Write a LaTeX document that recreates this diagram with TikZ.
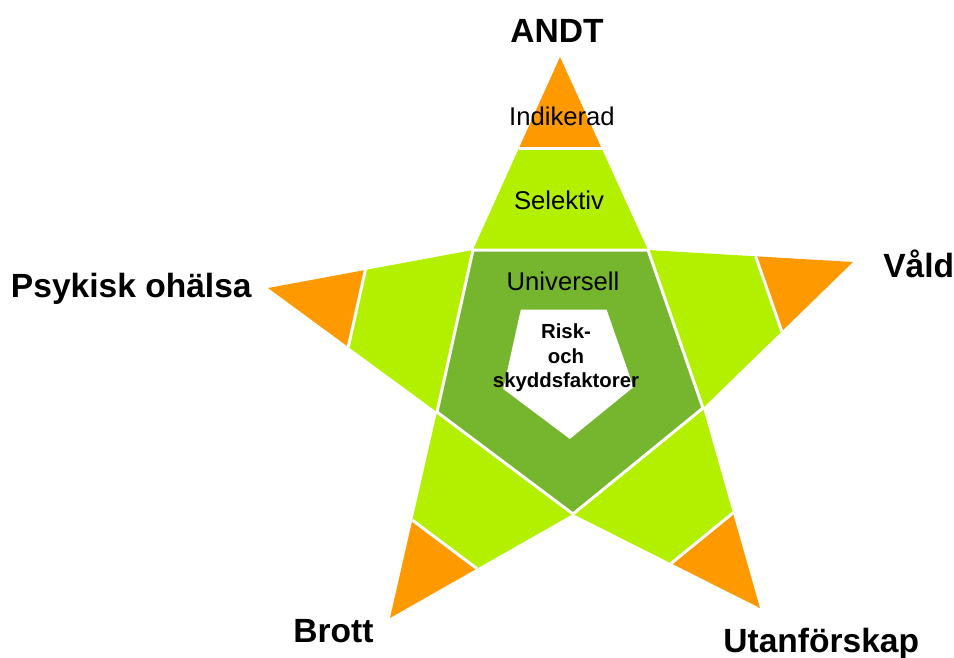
\documentclass[tikz,border=0pt]{standalone}
\usepackage{fontspec}
\setmainfont{Liberation Sans}
\usetikzlibrary{calc}
\definecolor{TipColor}{RGB}{255,153,0}
\definecolor{ArmColor}{RGB}{178,240,0}
\definecolor{CoreColor}{RGB}{118,182,46}

\begin{document}
\begin{tikzpicture}[x=0.02cm,y=-0.02cm,
    cut/.style={draw=white,line width=1.7pt,line join=miter},
    outer/.style={font=\fontsize{19.1}{23}\selectfont\bfseries,inner sep=0pt},
    inner/.style={font=\fontsize{14.6}{17}\selectfont}]
\useasboundingbox (0,0) rectangle (954,657);

% inner corners of the star, its tips and the middle
\coordinate (A) at (473,250);
\coordinate (B) at (648,250);
\coordinate (C) at (703,408);
\coordinate (D) at (573,514);
\coordinate (E) at (437,412);
\coordinate (T) at (560,57);
\coordinate (R) at (853,262);
\coordinate (BR) at (760,608);
\coordinate (BL) at (390,618);
\coordinate (L) at (268,288);
\coordinate (O) at (566.8,366.8);

% arms: green base with orange point
\foreach \cornerA/\apex/\cornerB in {A/T/B, B/R/C, C/BR/D, D/BL/E, E/L/A}{
    \fill[ArmColor] (\cornerA) -- ($(\cornerA)!0.525!(\apex)$)
        -- ($(\cornerB)!0.525!(\apex)$) -- (\cornerB) -- cycle;
    \fill[TipColor] ($(\cornerA)!0.525!(\apex)$) -- (\apex)
        -- ($(\cornerB)!0.525!(\apex)$) -- cycle;
    \draw[cut] ($(\cornerA)!0.525!(\apex)$) -- ($(\cornerB)!0.525!(\apex)$);
}

% core pentagon with white centre
\fill[CoreColor] (A) -- (B) -- (C) -- (D) -- (E) -- cycle;
\fill[white] ($(O)!0.49!(A)$) -- ($(O)!0.49!(B)$) -- ($(O)!0.49!(C)$)
    -- ($(O)!0.49!(D)$) -- ($(O)!0.49!(E)$) -- cycle;
\draw[cut] (A) -- (B) -- (C) -- (D) -- (E) -- cycle;

% levels
\node[inner] (indikerad) at (562,116) {Indikerad};
\node[inner] (selektiv) at (559,200) {Selektiv};
\node[inner] (universell) at (563,281) {Universell};
\node[font=\fontsize{11.6}{14}\selectfont\bfseries,align=center]
    (faktorer) at (566,358) {Risk-\\och\\skyddsfaktorer};

% areas at the tips
\node[outer,anchor=base] (andt) at (557,42) {ANDT};
\node[outer,anchor=base west] (vald) at (883,277) {Våld};
\node[outer,anchor=base east] (psykisk) at (252,297) {Psykisk ohälsa};
\node[outer,anchor=base west] (brott) at (293,642) {Brott};
\node[outer,anchor=base west] (utanforskap) at (723,652) {Utanförskap};
\end{tikzpicture}
\end{document}
